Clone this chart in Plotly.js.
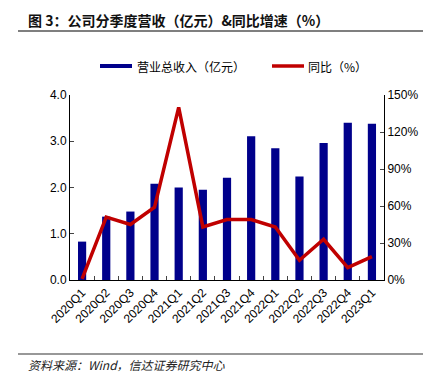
<!DOCTYPE html>
<html><head><meta charset="utf-8">
<script src="https://cdn.plot.ly/plotly-3.0.1.min.js"></script>
<style>html,body{margin:0;padding:0;background:#fff;}</style>
</head><body>
<div id="chart" style="width:436px;height:383px;"></div>
<script>
const categories = ["2020Q1","2020Q2","2020Q3","2020Q4","2021Q1","2021Q2","2021Q3","2021Q4","2022Q1","2022Q2","2022Q3","2022Q4","2023Q1"];
const revenue = [0.83,1.37,1.48,2.08,2.00,1.95,2.21,3.11,2.85,2.24,2.96,3.40,3.38];
const yoyGrowth = [1,51,45,59,140,43,49,49,43,16,33,10,19];
const revenueName = "营业总收入（亿元）";
const growthName = "同比（%）";

const cjk = "Noto Sans CJK SC, sans-serif";
const lat = "Liberation Sans, Arial, sans-serif";

const traces = [
  {type:"bar", x:categories, y:revenue, name:revenueName, marker:{color:"#00008B"}, width:0.34, yaxis:"y"},
  {type:"scatter", mode:"lines", x:categories, y:yoyGrowth, name:growthName, line:{color:"#C00000", width:3.5}, yaxis:"y2"}
];

const layout = {
  width:436, height:383,
  margin:{l:70, r:52, t:95, b:103},
  paper_bgcolor:"#fff", plot_bgcolor:"#fff",
  showlegend:false,
  font:{family:lat, size:12, color:"#000"},
  xaxis:{type:"category", showline:true, linecolor:"#000", linewidth:1, ticks:"inside", ticklen:4,
    tickson:"boundaries", tickangle:-45, tickfont:{family:lat, size:12}, showgrid:false, zeroline:false},
  yaxis:{range:[0,4], dtick:1, tickformat:".1f", showline:true, linecolor:"#000", ticks:"inside", ticklen:4,
    showgrid:false, zeroline:false, tickfont:{family:lat, size:12}},
  yaxis2:{range:[0,150], dtick:30, ticksuffix:"%", overlaying:"y", side:"right", showline:true, linecolor:"#000",
    ticks:"inside", ticklen:4, showgrid:false, zeroline:false, tickfont:{family:lat, size:12}},
  shapes:[
    {type:"line", xref:"paper", yref:"paper", x0:-52/314, x1:353/314, y0:(280-31)/185, y1:(280-31)/185, line:{color:"#555", width:1.5}},
    {type:"line", xref:"paper", yref:"paper", x0:-52/314, x1:353/314, y0:(280-354)/185, y1:(280-354)/185, line:{color:"#333", width:1.2}},
    {type:"rect", xref:"paper", yref:"paper", x0:(100-70)/314, x1:(132-70)/314, y0:(280-68)/185, y1:(280-64)/185, fillcolor:"#00008B", line:{width:0}},
    {type:"line", xref:"paper", yref:"paper", x0:(272-70)/314, x1:(304-70)/314, y0:(280-66)/185, y1:(280-66)/185, line:{color:"#C00000", width:3.5}}
  ],
  annotations:[
    {xref:"paper", yref:"paper", x:(26-70)/314, y:(280-20)/185, xanchor:"left", yanchor:"middle", showarrow:false,
     text:"<b>图 3：公司分季度营收（亿元）&同比增速（%）</b>", font:{family:cjk, size:14, color:"#111"}},
    {xref:"paper", yref:"paper", x:(135-70)/314, y:(280-66)/185, xanchor:"left", yanchor:"middle", showarrow:false,
     text:revenueName, font:{family:cjk, size:12, color:"#000"}},
    {xref:"paper", yref:"paper", x:(306-70)/314, y:(280-66)/185, xanchor:"left", yanchor:"middle", showarrow:false,
     text:growthName, font:{family:cjk, size:12, color:"#000"}},
    {xref:"paper", yref:"paper", x:(26-70)/314, y:(280-364)/185, xanchor:"left", yanchor:"middle", showarrow:false,
     text:"<i>资料来源：Wind，信达证券研究中心</i>", font:{family:cjk, size:12, color:"#222"}}
  ]
};
Plotly.newPlot("chart", traces, layout, {displayModeBar:false, staticPlot:true});
</script>
</body></html>
